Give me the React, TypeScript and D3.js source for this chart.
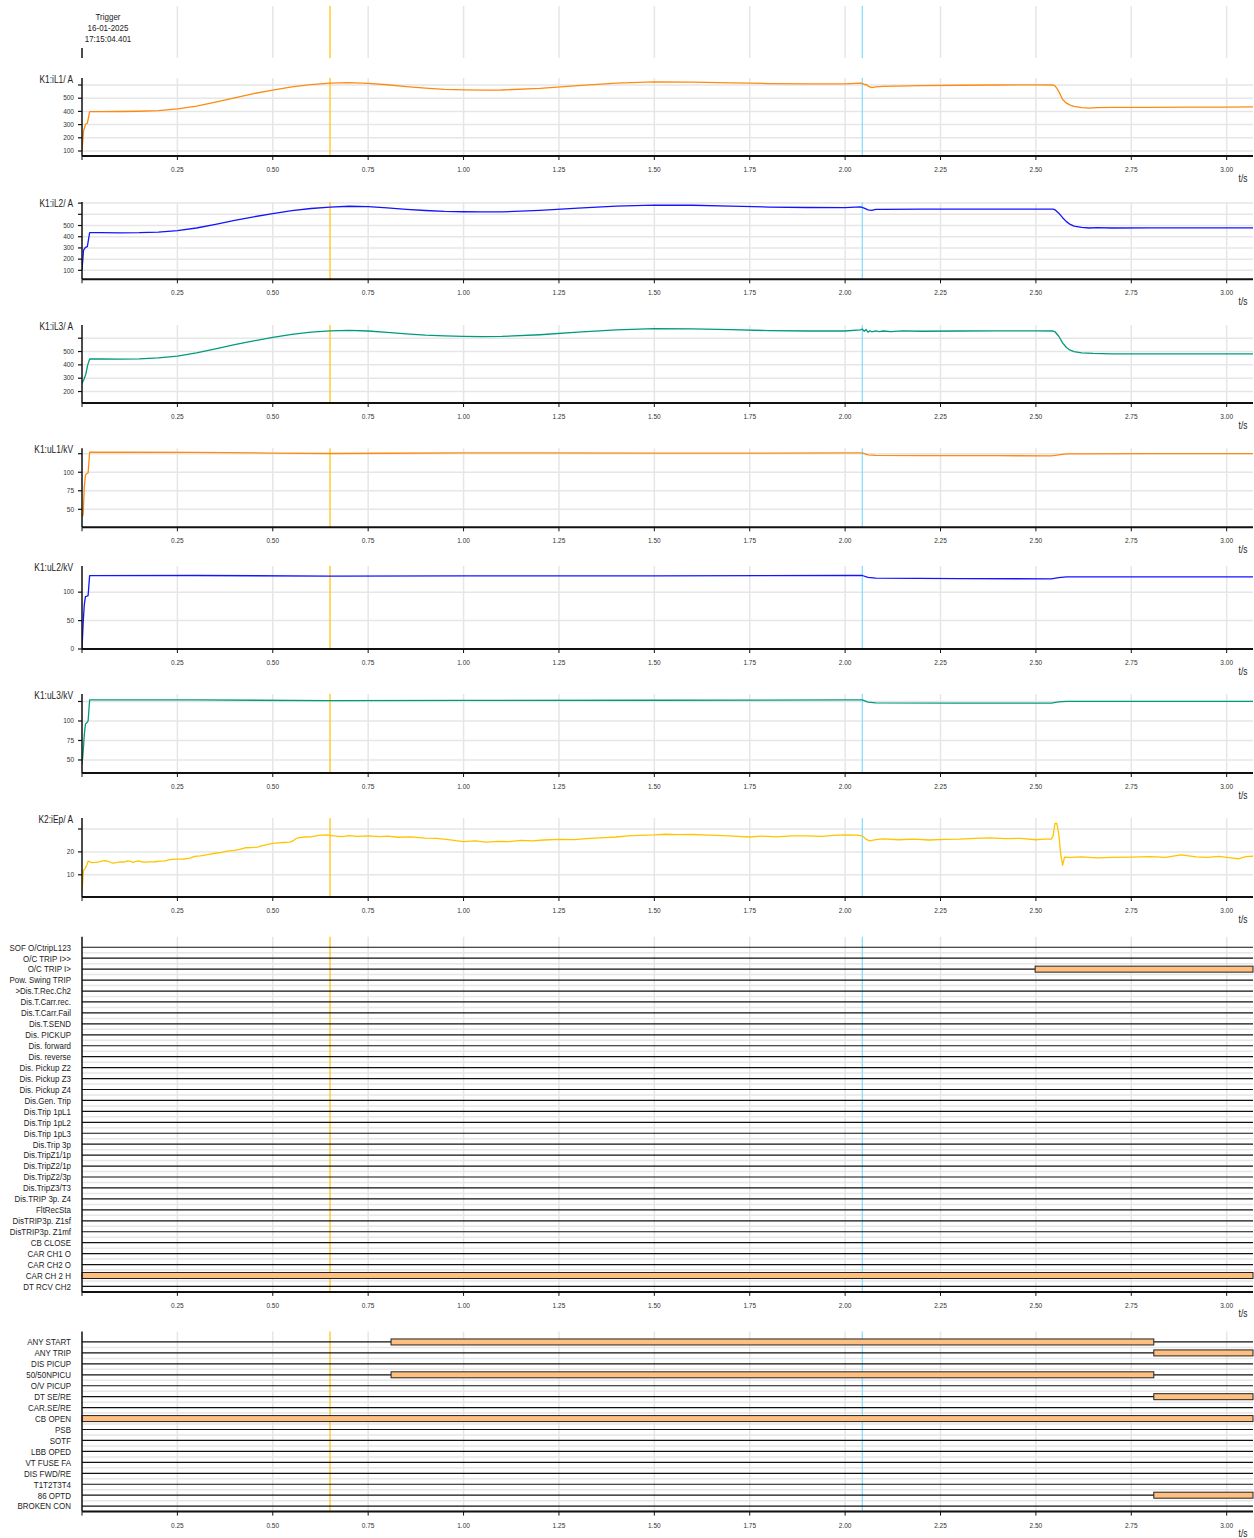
import React, { useEffect, useRef } from "react";
import * as d3 from "d3";

const W = 1254;
const H = 1538;

// time axis
const timeDomain: [number, number] = [0, 3.069];
const timeTicks = [0.25, 0.5, 0.75, 1.0, 1.25, 1.5, 1.75, 2.0, 2.25, 2.5, 2.75, 3.0];
const triggerTime = 0.65;
const cursorTime = 2.045;
const triggerText = ["Trigger", "16-01-2025", "17:15:04.401"];

// analog channels
const iL1: [number, number][] = [
  [0, 100], [0.004, 250], [0.009, 300], [0.014, 310], [0.02, 398], [0.05, 398], [0.1, 399], [0.15, 401],
  [0.2, 406], [0.25, 419], [0.3, 440], [0.35, 470], [0.4, 503], [0.45, 535], [0.5, 561], [0.55, 585],
  [0.6, 603], [0.65, 614], [0.7, 618], [0.75, 613], [0.8, 602], [0.85, 588], [0.9, 576], [0.95, 567],
  [1.0, 563], [1.05, 561], [1.1, 562], [1.2, 575], [1.3, 595], [1.4, 614], [1.5, 624], [1.6, 622],
  [1.7, 616], [1.8, 611], [1.9, 609], [2.0, 608], [2.04, 614], [2.046, 612], [2.05, 603], [2.055, 605],
  [2.06, 592], [2.065, 586], [2.07, 580], [2.08, 585], [2.1, 590], [2.2, 595], [2.3, 598], [2.4, 600],
  [2.5, 601], [2.545, 600], [2.55, 594], [2.555, 575], [2.56, 550], [2.565, 520], [2.57, 490], [2.58, 462],
  [2.59, 448], [2.6, 438], [2.62, 428], [2.64, 425], [2.66, 429], [2.7, 430], [2.8, 431], [2.9, 432],
  [3.0, 433], [3.069, 434],
];
const iL2: [number, number][] = [
  [0, 100], [0.004, 280], [0.009, 305], [0.014, 312], [0.02, 437], [0.05, 436], [0.1, 435], [0.15, 436],
  [0.2, 441], [0.25, 455], [0.3, 478], [0.35, 510], [0.4, 545], [0.45, 578], [0.5, 607], [0.55, 633],
  [0.6, 652], [0.65, 665], [0.7, 672], [0.75, 668], [0.8, 657], [0.85, 645], [0.9, 634], [0.95, 626],
  [1.0, 623], [1.05, 621], [1.1, 622], [1.2, 635], [1.3, 655], [1.4, 673], [1.5, 683], [1.6, 681],
  [1.7, 673], [1.8, 665], [1.9, 661], [2.0, 660], [2.04, 666], [2.05, 655], [2.06, 640], [2.07, 636],
  [2.08, 645], [2.1, 644], [2.2, 646], [2.3, 647], [2.4, 647], [2.5, 647], [2.545, 646], [2.55, 640],
  [2.56, 610], [2.57, 570], [2.58, 535], [2.59, 510], [2.6, 495], [2.62, 483], [2.64, 478], [2.66, 482],
  [2.7, 478], [2.8, 479], [2.9, 479], [3.0, 479], [3.069, 479],
];
const iL3: [number, number][] = [
  [0, 260], [0.005, 290], [0.01, 330], [0.015, 400], [0.02, 444], [0.05, 444], [0.1, 443], [0.15, 445],
  [0.2, 452], [0.25, 466], [0.3, 490], [0.35, 520], [0.4, 552], [0.45, 580], [0.5, 606], [0.55, 628],
  [0.6, 645], [0.65, 655], [0.7, 658], [0.75, 654], [0.8, 644], [0.85, 633], [0.9, 623], [0.95, 617],
  [1.0, 614], [1.05, 612], [1.1, 613], [1.2, 626], [1.3, 645], [1.4, 663], [1.5, 672], [1.6, 670],
  [1.7, 664], [1.8, 657], [1.9, 654], [2.0, 654], [2.04, 662], [2.045, 668], [2.05, 652], [2.055, 665],
  [2.06, 645], [2.065, 656], [2.07, 648], [2.08, 655], [2.09, 650], [2.1, 654], [2.12, 650], [2.15, 655],
  [2.2, 652], [2.3, 654], [2.4, 655], [2.5, 655], [2.545, 654], [2.55, 648], [2.56, 615], [2.57, 565],
  [2.58, 530], [2.59, 510], [2.6, 500], [2.62, 490], [2.65, 486], [2.7, 483], [2.8, 482], [2.9, 483],
  [3.0, 483], [3.069, 483],
];
const uL1: [number, number][] = [
  [0, 40], [0.003, 42], [0.006, 80], [0.009, 96], [0.012, 98], [0.016, 99], [0.02, 127], [0.1, 127],
  [0.3, 126.8], [0.5, 125.8], [0.65, 125.3], [0.8, 125.6], [1.0, 126], [1.2, 126], [1.5, 125.7],
  [1.8, 125.9], [2.0, 126.2], [2.045, 126.2], [2.06, 123.5], [2.08, 122.8], [2.2, 122.5], [2.4, 122.3],
  [2.54, 122.2], [2.56, 123.5], [2.58, 124.8], [2.8, 125], [3.069, 125],
];
const uL2: [number, number][] = [
  [0, 0], [0.003, 45], [0.006, 78], [0.009, 92], [0.013, 93], [0.016, 94], [0.02, 129], [0.3, 129.3],
  [0.65, 128.2], [1.0, 128.5], [1.5, 128.8], [2.0, 129.3], [2.045, 129.3], [2.06, 126], [2.08, 124.7],
  [2.3, 123.8], [2.54, 123.5], [2.56, 125.5], [2.58, 127], [3.069, 127],
];
const uL3: [number, number][] = [
  [0, 44], [0.003, 60], [0.006, 82], [0.009, 96], [0.013, 98], [0.016, 100], [0.02, 127], [0.3, 127],
  [0.65, 126], [1.0, 126.4], [1.5, 126.6], [2.0, 127], [2.045, 127], [2.06, 124.2], [2.08, 123.3],
  [2.3, 123], [2.54, 123], [2.56, 124.5], [2.58, 125.2], [3.069, 125.2],
];
const iEp: [number, number][] = [
  [0, 2.7], [0.004, 12], [0.008, 12.7], [0.013, 14.5], [0.016, 15.9], [0.02, 15.8], [0.025, 15.3],
  [0.035, 15.4], [0.045, 15.6], [0.055, 16.1], [0.062, 16.2], [0.07, 15.8], [0.08, 15.1], [0.09, 15.3],
  [0.1, 15.6], [0.11, 15.5], [0.12, 16.1], [0.127, 15.9], [0.134, 15.4], [0.14, 15.8], [0.147, 16.1],
  [0.155, 15.7], [0.165, 15.5], [0.175, 15.6], [0.19, 15.7], [0.205, 16.0], [0.218, 16.1], [0.23, 16.6],
  [0.25, 16.8], [0.265, 16.9], [0.283, 17.3], [0.295, 18.0], [0.31, 18.3], [0.322, 18.6], [0.336, 19.0],
  [0.35, 19.4], [0.367, 19.8], [0.38, 20.3], [0.4, 20.7], [0.415, 21.2], [0.428, 21.8], [0.445, 21.9],
  [0.46, 22.1], [0.47, 22.6], [0.48, 23.0], [0.49, 23.4], [0.5, 23.7], [0.515, 23.9], [0.527, 24.1],
  [0.546, 24.3], [0.555, 25.0], [0.56, 25.8], [0.57, 26.2], [0.585, 26.5], [0.6, 26.6], [0.62, 27.2],
  [0.64, 27.4], [0.66, 27.0], [0.68, 26.7], [0.7, 27.1], [0.72, 26.8], [0.75, 27.0], [0.78, 26.7],
  [0.8, 26.9], [0.83, 26.4], [0.86, 26.6], [0.9, 26.0], [0.93, 25.9], [0.96, 25.4], [0.98, 24.9],
  [1.0, 24.5], [1.03, 24.8], [1.06, 24.3], [1.09, 24.6], [1.12, 24.5], [1.15, 25.0], [1.18, 24.8],
  [1.21, 25.2], [1.25, 25.5], [1.29, 25.4], [1.33, 25.9], [1.37, 26.2], [1.4, 26.5], [1.43, 27.0],
  [1.46, 27.2], [1.5, 27.4], [1.53, 27.7], [1.56, 27.5], [1.6, 27.6], [1.64, 27.3], [1.68, 27.1],
  [1.72, 26.8], [1.75, 26.5], [1.78, 26.9], [1.82, 26.6], [1.86, 27.0], [1.9, 27.0], [1.94, 26.8],
  [1.97, 27.2], [2.0, 27.4], [2.03, 27.3], [2.045, 27.0], [2.055, 25.5], [2.065, 24.8], [2.08, 25.4],
  [2.1, 25.7], [2.14, 25.3], [2.18, 25.6], [2.22, 25.2], [2.26, 25.5], [2.3, 25.6], [2.34, 25.9],
  [2.38, 26.1], [2.42, 25.8], [2.46, 25.9], [2.5, 25.3], [2.52, 25.6], [2.54, 25.6], [2.545, 27.0],
  [2.55, 32.4], [2.555, 32.4], [2.56, 27.7], [2.565, 19.1], [2.57, 14.1], [2.575, 17.7], [2.59, 17.6],
  [2.62, 17.8], [2.66, 17.4], [2.7, 17.6], [2.75, 17.7], [2.8, 17.9], [2.84, 17.6], [2.88, 18.7],
  [2.92, 17.8], [2.95, 17.6], [2.98, 18.0], [3.01, 17.4], [3.03, 17.0], [3.05, 17.9], [3.069, 18.1],
];

const analogNames = ["K1:iL1/ A", "K1:iL2/ A", "K1:iL3/ A", "K1:uL1/kV", "K1:uL2/kV", "K1:uL3/kV", "K2:iEp/ A"];
const analogSeries = [iL1, iL2, iL3, uL1, uL2, uL3, iEp];
const analogDomains: [number, number][] = [[62, 653], [20, 710], [114, 699], [25.7, 132.3], [0, 146], [33.3, 134.6], [0.3, 34.8]];
const analogTicks = [
  [100, 200, 300, 400, 500, 600],
  [100, 200, 300, 400, 500, 600, 700],
  [200, 300, 400, 500, 600],
  [50, 75, 100, 125],
  [0, 50, 100],
  [50, 75, 100, 125],
  [10, 20, 30],
];

// binary channels
const binaryNames1 = [
  "SOF O/CtripL123", "O/C TRIP I>>", "O/C TRIP I>", "Pow. Swing TRIP", ">Dis.T.Rec.Ch2", "Dis.T.Carr.rec.",
  "Dis.T.Carr.Fail", "Dis.T.SEND", "Dis. PICKUP", "Dis. forward", "Dis. reverse", "Dis. Pickup Z2",
  "Dis. Pickup Z3", "Dis. Pickup Z4", "Dis.Gen. Trip", "Dis.Trip 1pL1", "Dis.Trip 1pL2", "Dis.Trip 1pL3",
  "Dis.Trip 3p", "Dis.TripZ1/1p", "Dis.TripZ2/1p", "Dis.TripZ2/3p", "Dis.TripZ3/T3", "Dis.TRIP 3p. Z4",
  "FltRecSta", "DisTRIP3p. Z1sf", "DisTRIP3p. Z1mf", "CB CLOSE", "CAR CH1 O", "CAR CH2 O", "CAR CH 2 H",
  "DT RCV CH2",
];
const binaryOn1: [string, number, number][] = [
  ["O/C TRIP I>", 2.498, 3.069],
  ["CAR CH 2 H", 0, 3.069],
];
const binaryNames2 = [
  "ANY START", "ANY TRIP", "DIS PICUP", "50/50NPICU", "O/V PICUP", "DT SE/RE", "CAR.SE/RE", "CB OPEN",
  "PSB", "SOTF", "LBB OPED", "VT FUSE FA", "DIS FWD/RE", "T1T2T3T4", "86 OPTD", "BROKEN CON",
];
const binaryOn2: [string, number, number][] = [
  ["ANY START", 0.81, 2.809],
  ["ANY TRIP", 2.809, 3.069],
  ["50/50NPICU", 0.81, 2.809],
  ["DT SE/RE", 2.809, 3.069],
  ["CB OPEN", 0, 3.069],
  ["86 OPTD", 2.809, 3.069],
];

const colors = ["#ff8a10", "#1414ff", "#009a7c", "#ff8a10", "#1414ff", "#009a7c", "#ffc400"];

const App = () => {
  const ref = useRef<SVGSVGElement>(null);

  useEffect(() => {
    document.body.style.margin = "0";
    const svg = d3.select(ref.current);
    svg.selectAll("*").remove();

    const font = "'Liberation Sans', Arial, sans-serif";
    const squeeze = 0.84; // labels use a narrow face in the original
    const left = 82;
    const right = 1253;
    const x = d3.scaleLinear().domain(timeDomain).range([left, right]);
    const gridColor = "#e6e6e6";

    svg.append("rect").attr("width", W).attr("height", H).attr("fill", "white");

    const vGrid = (top: number, bottom: number) => {
      svg.append("g")
        .selectAll("line")
        .data(timeTicks)
        .join("line")
        .attr("x1", (d) => x(d))
        .attr("x2", (d) => x(d))
        .attr("y1", top)
        .attr("y2", bottom)
        .attr("stroke", gridColor)
        .attr("stroke-width", 1.5);
    };

    const markers = (top: number, bottom: number) => {
      svg.append("line")
        .attr("x1", x(triggerTime)).attr("x2", x(triggerTime))
        .attr("y1", top).attr("y2", bottom)
        .attr("stroke", "#ffc000").attr("stroke-width", 1.2);
      svg.append("line")
        .attr("x1", x(cursorTime)).attr("x2", x(cursorTime))
        .attr("y1", top).attr("y2", bottom)
        .attr("stroke", "#7fdcff").attr("stroke-width", 1.2);
    };

    // narrow label, anchored at (ax, ay)
    const label = (g: any, ax: number, ay: number, txt: string, size: number, anchor: string) => {
      g.append("text")
        .attr("transform", `translate(${ax},${ay}) scale(${squeeze},1)`)
        .attr("text-anchor", anchor)
        .attr("dy", "0.35em")
        .style("font-family", font)
        .style("font-size", `${size}px`)
        .attr("fill", "#222")
        .text(txt);
    };

    const xAxis = (bottom: number) => {
      const g = svg.append("g").attr("transform", `translate(0,${bottom})`);
      g.append("line").attr("x1", left).attr("x2", right).attr("stroke", "#111").attr("stroke-width", 2);
      g.selectAll(".tk")
        .data(timeTicks)
        .join("line")
        .attr("x1", (d) => x(d)).attr("x2", (d) => x(d))
        .attr("y1", 0).attr("y2", 4)
        .attr("stroke", "#111");
      g.append("line").attr("x1", left).attr("x2", left).attr("y1", 0).attr("y2", 4).attr("stroke", "#111");
      g.selectAll(".lb")
        .data(timeTicks)
        .join("text")
        .attr("x", (d) => x(d))
        .attr("y", 16)
        .attr("text-anchor", "middle")
        .style("font-family", font)
        .style("font-size", "6.5px")
        .attr("fill", "#333")
        .text((d) => d3.format(".2f")(d));
      label(g, 1243, 22, "t/s", 10, "middle");
    };

    // header
    vGrid(6, 58);
    markers(6, 58);
    svg.append("line").attr("x1", left).attr("x2", left).attr("y1", 48).attr("y2", 58)
      .attr("stroke", "#111").attr("stroke-width", 1.5);
    triggerText.forEach((t, i) => label(svg, 108, 16.5 + i * 11.3, t, 9.5, "middle"));

    // analog panels
    const panelTops = [78, 202, 325, 448.3, 566, 694, 818];
    const panelBottoms = [156, 279.3, 403, 527.3, 649, 773, 897];

    analogSeries.forEach((series, i) => {
      const top = panelTops[i];
      const bottom = panelBottoms[i];
      const y = d3.scaleLinear().domain(analogDomains[i]).range([bottom, top]);

      const clipId = `clip-${i}`;
      svg.append("clipPath").attr("id", clipId)
        .append("rect").attr("x", left).attr("y", top - 1).attr("width", right - left).attr("height", bottom - top + 1);

      vGrid(top, bottom);
      svg.append("g")
        .selectAll("line")
        .data(analogTicks[i])
        .join("line")
        .attr("x1", left).attr("x2", right)
        .attr("y1", (d) => y(d)).attr("y2", (d) => y(d))
        .attr("stroke", gridColor).attr("stroke-width", 1.5);
      markers(top, bottom);

      const line = d3.line<[number, number]>()
        .x((d) => x(d[0]))
        .y((d) => y(d[1]));
      svg.append("path")
        .datum(series)
        .attr("clip-path", `url(#${clipId})`)
        .attr("d", line)
        .attr("fill", "none")
        .attr("stroke", colors[i])
        .attr("stroke-width", 1.3)
        .attr("stroke-linejoin", "round");

      // y axis
      svg.append("line").attr("x1", left).attr("x2", left).attr("y1", top).attr("y2", bottom)
        .attr("stroke", "#111").attr("stroke-width", 1.5);
      const yt = svg.append("g");
      yt.selectAll("line")
        .data(analogTicks[i])
        .join("line")
        .attr("x1", left - 4).attr("x2", left)
        .attr("y1", (d) => y(d)).attr("y2", (d) => y(d))
        .attr("stroke", "#111").attr("stroke-width", 1.2);
      yt.selectAll("text")
        .data(analogTicks[i].filter((d) => y(d) - top > 16))
        .join("text")
        .attr("x", left - 8)
        .attr("y", (d) => y(d))
        .attr("dy", "0.35em")
        .attr("text-anchor", "end")
        .style("font-family", font)
        .style("font-size", "6.5px")
        .attr("fill", "#333")
        .text((d) => d);

      label(svg, 73, top + 1, analogNames[i], 10, "end");

      xAxis(bottom);
    });

    // binary panels
    const binaryPanel = (names: string[], on: [string, number, number][], top: number, bottom: number) => {
      const yb = d3.scaleBand().domain(names).range([top, bottom]);
      const c = (n: string) => (yb(n) as number) + yb.bandwidth() / 2;

      vGrid(top - 5, bottom);
      svg.append("g")
        .selectAll("line")
        .data(names)
        .join("line")
        .attr("x1", left).attr("x2", right)
        .attr("y1", (d) => c(d) + yb.bandwidth() / 2).attr("y2", (d) => c(d) + yb.bandwidth() / 2)
        .attr("stroke", gridColor).attr("stroke-width", 1.5);
      markers(top - 5, bottom);

      svg.append("g")
        .selectAll("line")
        .data(names)
        .join("line")
        .attr("x1", left).attr("x2", right)
        .attr("y1", (d) => c(d)).attr("y2", (d) => c(d))
        .attr("stroke", "#111").attr("stroke-width", 1.2);

      svg.append("g")
        .selectAll("rect")
        .data(on)
        .join("rect")
        .attr("x", (d) => x(d[1]))
        .attr("width", (d) => x(d[2]) - x(d[1]))
        .attr("y", (d) => c(d[0]) - 3)
        .attr("height", 6)
        .attr("fill", "#ffbf80")
        .attr("stroke", "#222")
        .attr("stroke-width", 1);

      const lg = svg.append("g");
      names.forEach((n) => label(lg, 71, c(n), n, 9.5, "end"));

      svg.append("line").attr("x1", left).attr("x2", left).attr("y1", top - 5).attr("y2", bottom)
        .attr("stroke", "#111").attr("stroke-width", 1.5);
      xAxis(bottom);
    };

    binaryPanel(binaryNames1, binaryOn1, 941.8, 1291.9);
    binaryPanel(binaryNames2, binaryOn2, 1336.5, 1511.6);
  }, []);

  return <svg ref={ref} width={W} height={H} style={{ display: "block" }}></svg>;
};

export default App;
